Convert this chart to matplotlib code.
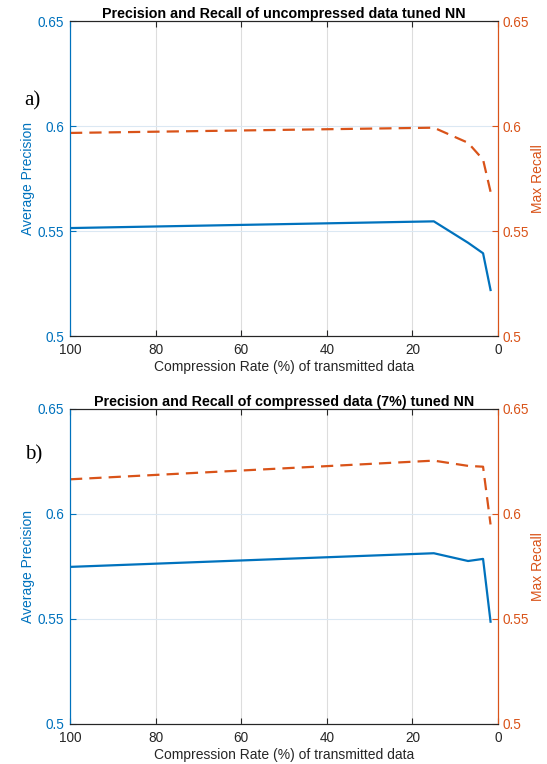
import matplotlib.pyplot as plt

# compression rate (% of transmitted data)
rate = [100, 15, 7, 3.5, 1.75]

prec_a = [0.5514, 0.5546, 0.5444, 0.5394, 0.5219]
recall_a = [0.5967, 0.5992, 0.5920, 0.5840, 0.5687]

prec_b = [0.5748, 0.5813, 0.5776, 0.5786, 0.5487]
recall_b = [0.6165, 0.6254, 0.6229, 0.6225, 0.5950]

titles = ["Precision and Recall of uncompressed data tuned NN",
          "Precision and Recall of compressed data (7%) tuned NN"]
panel_tags = ["a)", "b)"]
yticks = [0.5, 0.55, 0.6, 0.65]
ytick_labels = ["0.5", "0.55", "0.6", "0.65"]
xticks = [100, 80, 60, 40, 20, 0]

blue = "#0072BD"
orange = "#D95319"
dark = "#262626"

plt.rcParams["font.family"] = ["Liberation Sans", "DejaVu Sans"]

fig = plt.figure(figsize=(5.47, 7.64), dpi=100)
positions = [[0.128, 0.5602, 0.7825, 0.4123], [0.128, 0.0524, 0.7825, 0.4123]]
tag_y = [0.868, 0.404]

for i, (prec, rec) in enumerate([(prec_a, recall_a), (prec_b, recall_b)]):
    ax = fig.add_axes(positions[i])
    ax2 = ax.twinx()
    ax.plot(rate, prec, color=blue, lw=1.6)
    ax2.plot(rate, rec, color=orange, lw=1.6, dashes=(5.5, 3.2))

    ax.set_xlim(100, 0)
    for a in (ax, ax2):
        a.set_ylim(0.5, 0.65)
        a.set_yticks(yticks)
        a.set_yticklabels(ytick_labels)
    ax.set_xticks(xticks)
    ax.set_xticklabels([str(v) for v in xticks])

    ax.grid(axis="x", color="#dddddd", lw=0.8)
    ax.grid(axis="y", color="#dbe8f3", lw=0.8)
    ax.set_axisbelow(True)

    ax.tick_params(axis="x", direction="in", top=True, colors=dark,
                   labelsize=9.8, length=4, width=0.8, pad=5)
    ax.tick_params(axis="y", direction="in", colors=blue, labelsize=9.8,
                   length=4, width=0.8, pad=4)
    ax2.tick_params(axis="y", direction="in", colors=orange, labelsize=9.8,
                    length=4, width=0.8, pad=3)

    for a in (ax, ax2):
        a.spines["top"].set_color(dark)
        a.spines["bottom"].set_color(dark)
        a.spines["left"].set_color(blue)
        a.spines["right"].set_color(orange)
        for s in a.spines.values():
            s.set_linewidth(0.8)

    ax.set_ylabel("Average Precision", color=blue, fontsize=10, labelpad=2)
    ax2.set_ylabel("Max Recall", color=orange, fontsize=10, labelpad=2)
    ax.set_xlabel("Compression Rate (%) of transmitted data", color=dark,
                  fontsize=10, labelpad=2)
    ax.set_title(titles[i], fontsize=10.3, fontweight="bold", color="black", pad=2)

    fig.text(0.045, tag_y[i], panel_tags[i], fontsize=15,
             family="Liberation Serif", ha="left", va="center")

fig.savefig("out.png", dpi=100)
